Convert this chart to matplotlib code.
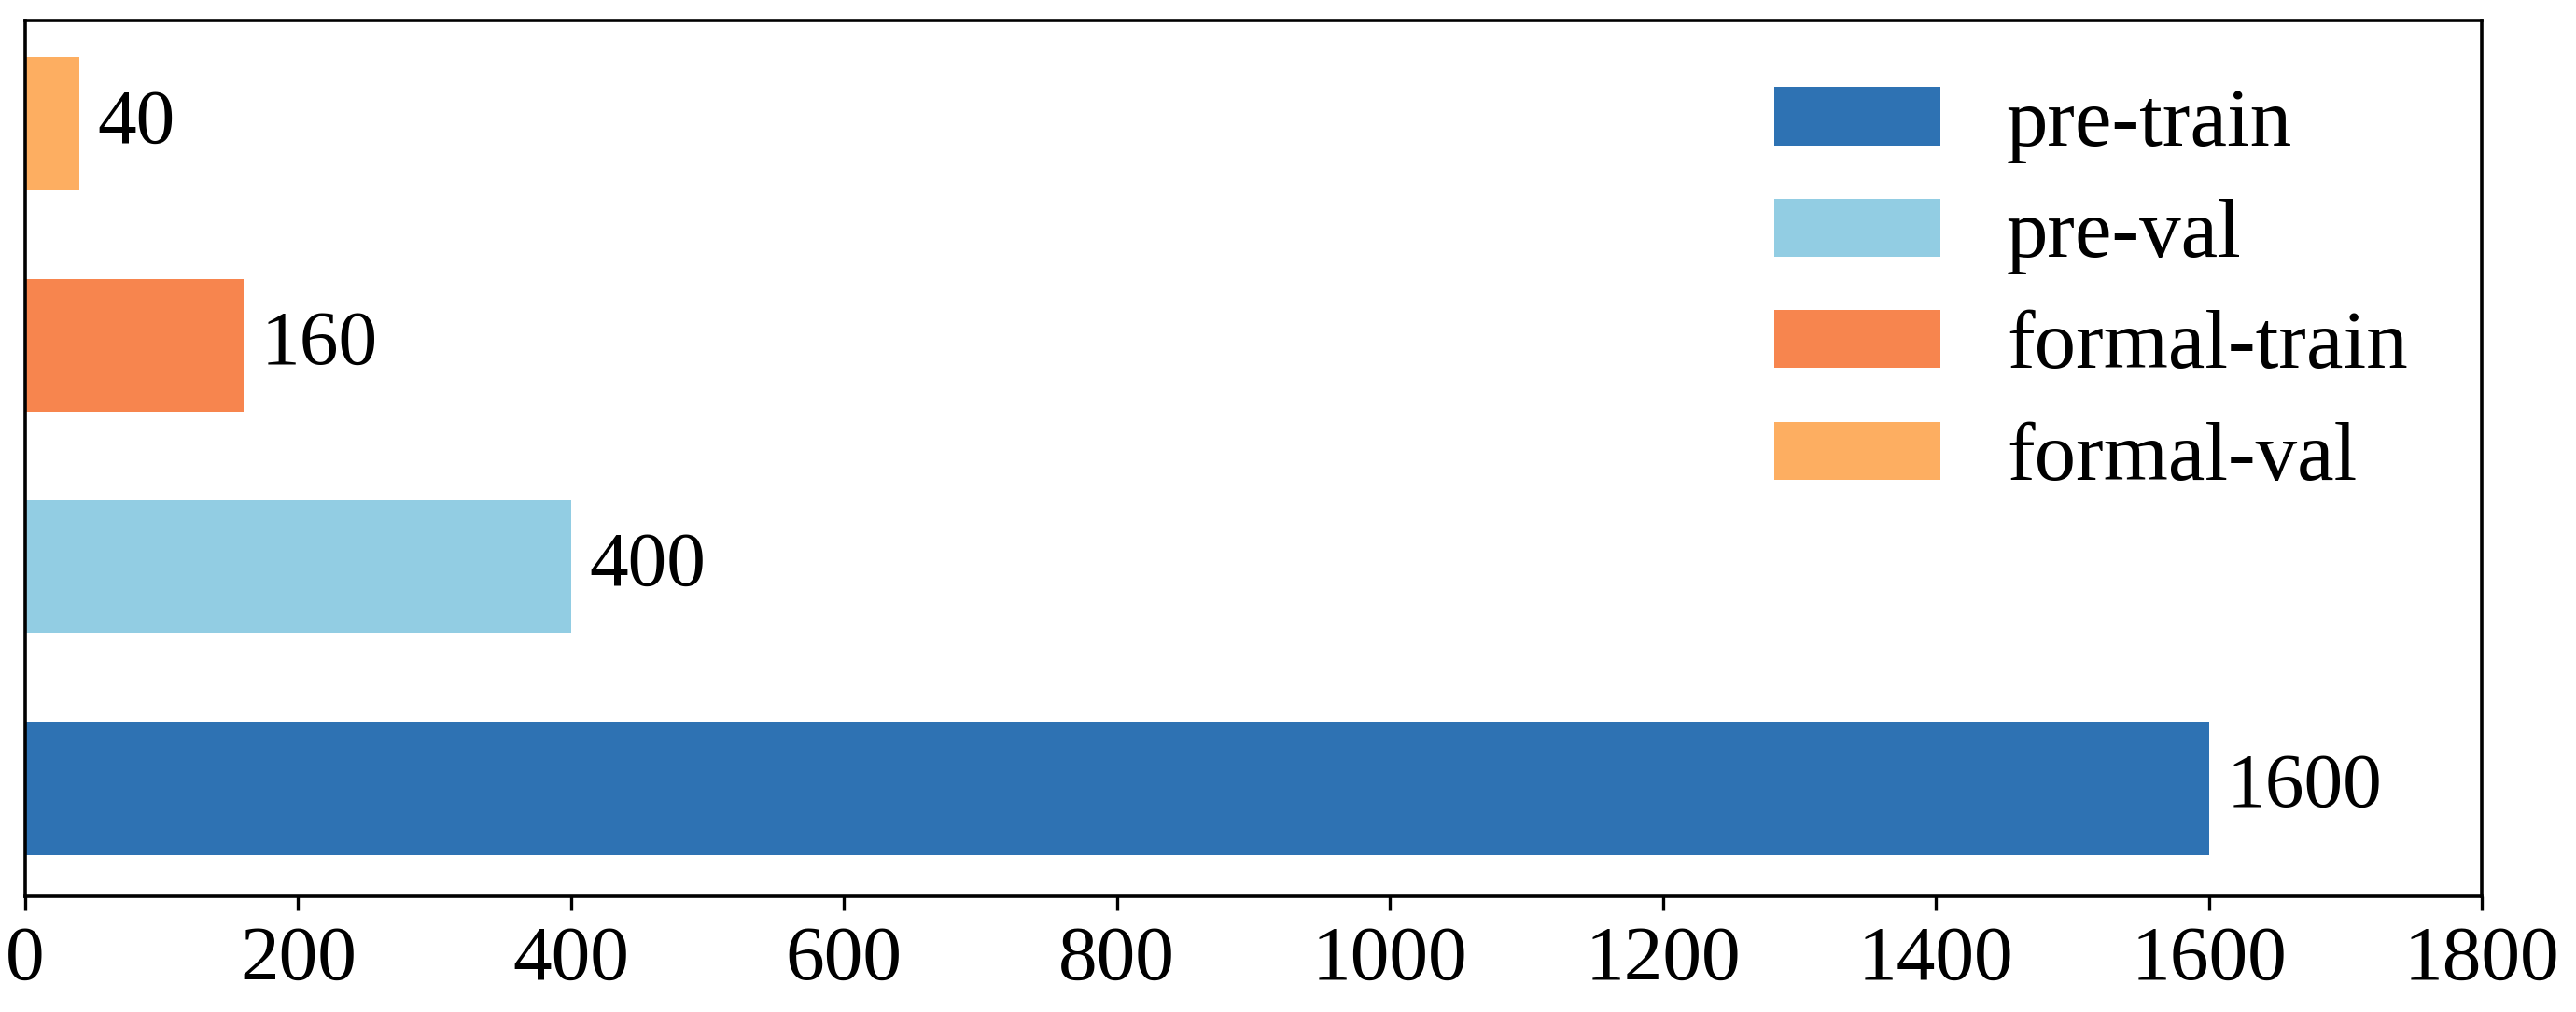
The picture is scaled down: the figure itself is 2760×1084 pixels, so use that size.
import matplotlib
matplotlib.use("Agg")
import matplotlib.pyplot as plt

categories = ["pre-train", "pre-val", "formal-train", "formal-val"]
values = [1600, 400, 160, 40]
colors = ["#2E72B3", "#92CDE3", "#F7854E", "#FDAE61"]
xticks = [0, 200, 400, 600, 800, 1000, 1200, 1400, 1600, 1800]

plt.rcParams["font.family"] = ["Liberation Serif", "DejaVu Serif"]
FS = 30

fig = plt.figure(figsize=(13.8, 5.42), dpi=200)
ax = fig.add_axes([27/2760, 1 - 960/1084, (2659-27)/2760, (960-22)/1084])

ypos = list(range(len(categories)))
bars = ax.barh(ypos, values, height=0.6, color=colors, label=categories)
for y, v in zip(ypos, values):
    ax.text(v + 13, y, str(v), va="center", ha="left", fontsize=FS)

ax.set_xlim(0, 1800)
ax.set_ylim(-0.487, 3.466)
ax.set_xticks(xticks)
ax.set_xticklabels([str(t) for t in xticks], fontsize=FS)
ax.set_yticks([])
ax.tick_params(axis="x", length=5.4, width=1.2, pad=6)
for s in ax.spines.values():
    s.set_linewidth(1.3)

handles = [bars[i] for i in range(len(categories))]
ax.legend(handles, categories, loc="upper left", bbox_to_anchor=(0.712, 0.924),
          frameon=False, fontsize=32, borderpad=0, borderaxespad=0,
          handlelength=2.0, handleheight=0.7, handletextpad=0.8, labelspacing=0.43)

fig.savefig("out.png", dpi=200)
